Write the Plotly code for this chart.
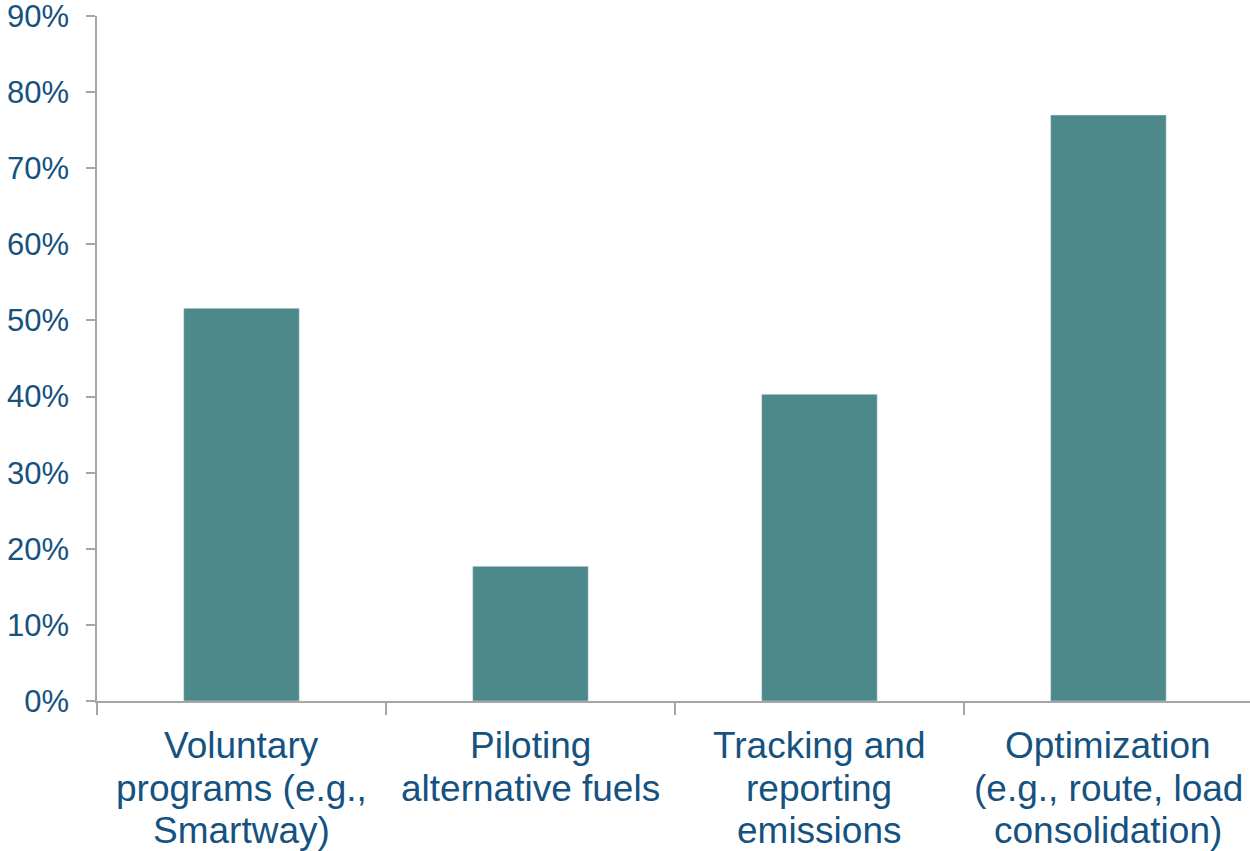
import plotly.graph_objects as go

categories = [
    "Voluntary programs (e.g., Smartway)",
    "Piloting alternative fuels",
    "Tracking and reporting emissions",
    "Optimization (e.g., route, load consolidation)",
]
category_lines = [
    ["Voluntary", "programs (e.g.,", "Smartway)"],
    ["Piloting", "alternative fuels"],
    ["Tracking and", "reporting", "emissions"],
    ["Optimization", "(e.g., route, load", "consolidation)"],
]
values = [51.6, 17.7, 40.3, 77.0]
y_ticks = [0, 10, 20, 30, 40, 50, 60, 70, 80, 90]
y_tick_labels = ["0%", "10%", "20%", "30%", "40%", "50%", "60%", "70%", "80%", "90%"]

bar_color = "#4D898A"
text_color = "#15527F"
axis_color = "#A6A6A6"
font_family = "Liberation Sans, Arial, sans-serif"

fig = go.Figure(
    go.Bar(x=categories, y=values, marker_color=bar_color, width=0.4)
)

plot_top, plot_bottom = 16, 701
plot_h = plot_bottom - plot_top
line_centers_px = [745, 788, 830]

for cat, lines in zip(categories, category_lines):
    for i, txt in enumerate(lines):
        fig.add_annotation(
            x=cat,
            xref="x",
            y=-(line_centers_px[i] - plot_bottom) / plot_h,
            yref="paper",
            text=txt,
            showarrow=False,
            xanchor="center",
            yanchor="middle",
            font=dict(family=font_family, size=37, color=text_color),
        )

fig.update_layout(
    width=1250,
    height=851,
    margin=dict(l=97, r=0, t=plot_top, b=851 - plot_bottom),
    plot_bgcolor="white",
    paper_bgcolor="white",
    showlegend=False,
    font=dict(family=font_family, size=31, color=text_color),
)

fig.update_xaxes(
    type="category",
    range=[-0.5, 3.49],
    showline=True,
    linecolor=axis_color,
    linewidth=1.5,
    ticks="outside",
    tickson="boundaries",
    ticklen=12,
    tickcolor=axis_color,
    tickwidth=1.5,
    showgrid=False,
    showticklabels=False,
)

fig.update_yaxes(
    range=[0, 90.01],
    tickmode="array",
    tickvals=y_ticks,
    ticktext=y_tick_labels,
    ticklabeloverflow="allow",
    showline=True,
    linecolor=axis_color,
    linewidth=1.5,
    ticks="outside",
    ticklen=9,
    tickcolor=axis_color,
    tickwidth=1.5,
    showgrid=False,
    zeroline=False,
    ticklabelstandoff=11,
    tickfont=dict(family=font_family, size=31, color=text_color),
)

fig.write_html("out.html")
